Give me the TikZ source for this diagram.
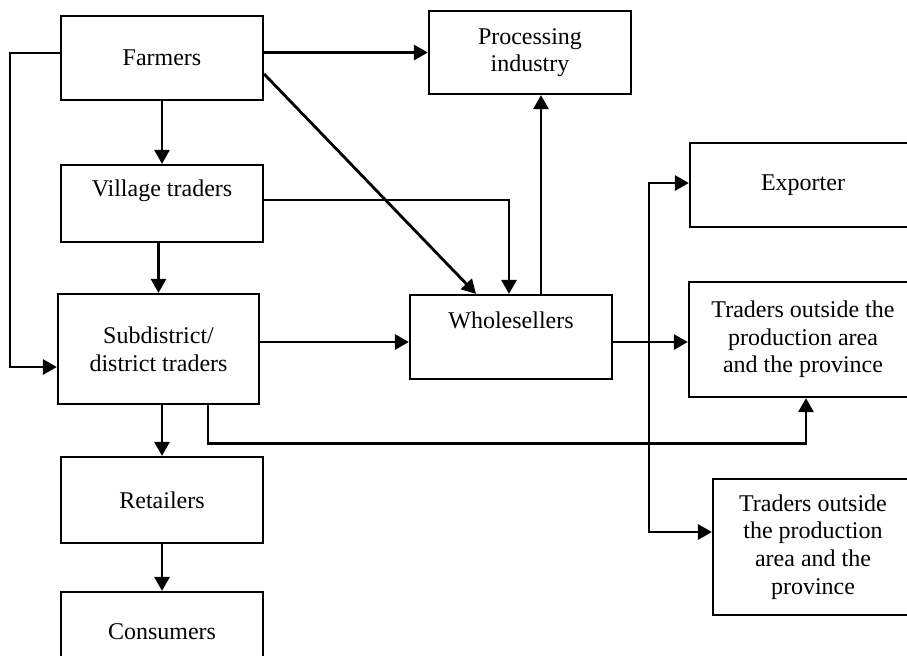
\documentclass[tikz,border=0pt]{standalone}
\usepackage{fontspec}
\setmainfont{Liberation Serif}
\usetikzlibrary{arrows.meta}

\tikzset{
  stage/.style={draw, line width=1.1pt, inner sep=0pt, align=center,
    font=\fontsize{12}{13.8}\selectfont},
  flow/.style={line width=1.4pt, -{Triangle[length=7pt,width=7.5pt]}}
}

\begin{document}
\begin{tikzpicture}[x=0.5pt,y=-0.5pt]
      \clip (0,0) rectangle (907,655);

      \node[stage, minimum width=101pt, minimum height=42pt] (farmers) at (162,58) {Farmers};
      \node[stage, minimum width=101pt, minimum height=41.5pt] (proc) at (530,52.5) {Processing\\industry};
      \node[stage, minimum width=101pt, minimum height=38.5pt, text depth=15pt] (village) at (162,203.5) {Village traders};
      \node[stage, minimum width=100.5pt, minimum height=55pt] (subd) at (158.5,349) {Subdistrict/\\district traders};
      \node[stage, minimum width=101pt, minimum height=43pt] (retail) at (162,500) {Retailers};
      \node[stage, minimum width=101pt, minimum height=40pt] (cons) at (162,632) {Consumers};
      \node[stage, minimum width=101pt, minimum height=42pt, text depth=17pt] (whole) at (511,337) {Wholesellers};
      \node[stage, minimum width=113pt, minimum height=42pt] (export) at (803,185) {Exporter};
      \node[stage, minimum width=114pt, minimum height=57.5pt] (trad1) at (803,339.5) {Traders outside the\\production area\\and the province};
      \node[stage, minimum width=100pt, minimum height=68pt] (trad2) at (813,547) {Traders outside\\the production\\area and the\\province};

      \coordinate (split) at (649,342);

      % from the farmers
      \draw[flow] (farmers.east |- proc.west) -- (proc.west);
      \draw[flow] ([yshift=2.5pt]farmers.west) -- ++(-50,0) |- ([yshift=-9pt]subd.west);
      \draw[flow] (farmers.south) -- (village.north);
      \draw[flow] ([yshift=-8pt]farmers.east) -- ([xshift=-17.5pt]whole.north);

      \draw[flow] ([yshift=1.75pt]village.east) -| ([xshift=-1pt]whole.north);
      \draw[flow] (village.south -| subd.north) -- (subd.north);

      \draw[flow] ([xshift=15pt]whole.north) -- ([xshift=15pt]whole.north |- proc.south);
      \draw[flow] (subd.east |- whole.west) ++(0,5) -- ([yshift=-2.5pt]whole.west);
      \draw[flow] ([yshift=-2.5pt]whole.east) -- ([yshift=-2.5pt]whole.east -| trad1.west);

      % split towards the exporter and the other traders
      \draw[flow] (split) |- ([yshift=1pt]export.west);
      \draw[flow] (split) |- ([yshift=7.5pt]trad2.west);

      \draw[flow] ([xshift=24.75pt]subd.south) -- ++(0,38) -| ([xshift=1.5pt]trad1.south);
      \draw[flow] (subd.south -| retail.north) -- (retail.north);
      \draw[flow] (retail.south) -- (cons.north);
    \end{tikzpicture}
\end{document}
